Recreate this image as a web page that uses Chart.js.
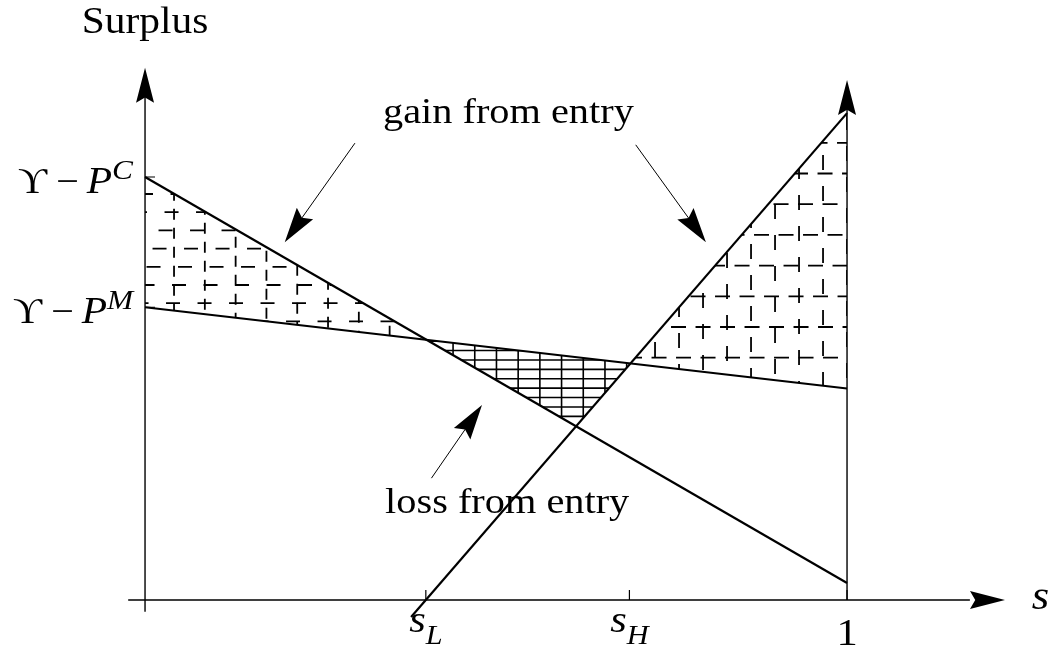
<!DOCTYPE html>
<html lang="en">
<head>
<meta charset="UTF-8">
<title>Surplus and entry</title>
<script src="https://cdn.jsdelivr.net/npm/chart.js@4.4.1/dist/chart.umd.min.js"></script>
<style>
  html, body { margin: 0; padding: 0; background: #fff; }
  #wrap { width: 1053px; height: 651px; }
</style>
</head>
<body>
<div id="wrap"><canvas id="surplusChart"></canvas></div>
<script>
// s along the horizontal axis, surplus scaled so that Y - P^C = 1
const lineC = [{x: 0, y: 1.0}, {x: 1, y: 0.04}];      // starts at Y - P^C
const lineM = [{x: 0, y: 0.692}, {x: 1, y: 0.5}];     // starts at Y - P^M
const lineE = [{x: 0.379, y: -0.04}, {x: 1, y: 1.151}];

const xTickValues = [0.4, 0.69, 1];
const xTickMain = ['s', 's', '1'];
const xTickSub = ['L', 'H', ''];
const yTickValues = [1.0, 0.692];
const yTickSup = ['C', 'M'];
const yTickLeft = [18, 13];

const noteText = ['gain from entry', 'loss from entry'];
const notePos = [{x: 0.339, y: 1.128}, {x: 0.342, y: 0.206}];
const pointerFrom = [{x: 0.299, y: 1.080}, {x: 0.699, y: 1.076}, {x: 0.408, y: 0.288}];
const pointerTo = [{x: 0.199, y: 0.846}, {x: 0.799, y: 0.846}, {x: 0.480, y: 0.461}];

const SERIF = '"Liberation Serif", "DejaVu Serif", serif';
const SX = 1.12;

function lineAt(l, s) {
    return l[0].y + (l[1].y - l[0].y) * (s - l[0].x) / (l[1].x - l[0].x);
}
function meet(a, b) {
    const ka = (a[1].y - a[0].y) / (a[1].x - a[0].x);
    const kb = (b[1].y - b[0].y) / (b[1].x - b[0].x);
    const s = (b[0].y - kb * b[0].x - a[0].y + ka * a[0].x) / (ka - kb);
    return {x: s, y: lineAt(a, s)};
}

function toPx(chart, p) {
    return {x: chart.scales.x.getPixelForValue(p.x), y: chart.scales.y.getPixelForValue(p.y)};
}

function hatch(ctx, pts, h) {
    const xs = pts.map(p => p.x), ys = pts.map(p => p.y);
    const b = {left: Math.min(...xs), right: Math.max(...xs), top: Math.min(...ys), bottom: Math.max(...ys)};
    ctx.save();
    ctx.beginPath();
    pts.forEach((p, i) => i ? ctx.lineTo(p.x, p.y) : ctx.moveTo(p.x, p.y));
    ctx.closePath();
    ctx.clip();
    ctx.strokeStyle = '#000';
    ctx.lineWidth = h.lw;
    ctx.lineCap = 'butt';

    ctx.setLineDash(h.hDash || []);
    let r = 0;
    for (let y = h.oy - Math.ceil((h.oy - b.top) / h.dy) * h.dy; y <= b.bottom + 1; y += h.dy, r++) {
        ctx.lineDashOffset = (h.hStep || 0) * r;
        ctx.beginPath();
        if (h.fromRight) { ctx.moveTo(b.right, y); ctx.lineTo(b.left - 2, y); }
        else { ctx.moveTo(b.left, y); ctx.lineTo(b.right + 2, y); }
        ctx.stroke();
    }

    ctx.setLineDash(h.vDash || []);
    let c = 0;
    const y0 = h.oy - Math.ceil((h.oy - b.top) / h.dy) * h.dy;
    for (let x = h.ox - Math.ceil((h.ox - b.left) / h.dx) * h.dx; x <= b.right + 1; x += h.dx, c++) {
        ctx.lineDashOffset = (h.vStep || 0) * c;
        ctx.beginPath();
        ctx.moveTo(x, y0);
        ctx.lineTo(x, b.bottom + 2);
        ctx.stroke();
    }
    ctx.restore();
}

function arrowHead(ctx, tip, from, len, half) {
    const a = Math.atan2(tip.y - from.y, tip.x - from.x);
    const ux = Math.cos(a), uy = Math.sin(a);
    const nx = -uy, ny = ux;
    const bx = tip.x - ux * len, by = tip.y - uy * len;
    ctx.beginPath();
    ctx.moveTo(tip.x, tip.y);
    ctx.lineTo(bx + nx * half, by + ny * half);
    ctx.lineTo(tip.x - ux * len * 0.85, tip.y - uy * len * 0.85);
    ctx.lineTo(bx - nx * half, by - ny * half);
    ctx.closePath();
    ctx.fill();
}

function arrow(ctx, from, tip, width, len, half) {
    const a = Math.atan2(tip.y - from.y, tip.x - from.x);
    ctx.lineWidth = width;
    ctx.beginPath();
    ctx.moveTo(from.x, from.y);
    ctx.lineTo(tip.x - Math.cos(a) * len * 0.8, tip.y - Math.sin(a) * len * 0.8);
    ctx.stroke();
    arrowHead(ctx, tip, from, len, half);
}

function richText(ctx, parts, x, y, align) {
    ctx.save();
    ctx.translate(x, y);
    ctx.scale(SX, 1);
    let w = 0;
    parts.forEach(p => { ctx.font = p.font; p.w = ctx.measureText(p.t).width + (p.gap || 0); w += p.w; });
    let cx = align === 'center' ? -w / 2 : align === 'right' ? -w : 0;
    parts.forEach(p => { ctx.font = p.font; ctx.fillText(p.t, cx, p.dy || 0); cx += p.w; });
    ctx.restore();
}

const diagram = {
    id: 'surplusDiagram',
    beforeDatasetsDraw(chart) {
        const ctx = chart.ctx;
        const pCM = toPx(chart, meet(lineC, lineM));
        const pME = toPx(chart, meet(lineM, lineE));
        const pCE = toPx(chart, meet(lineC, lineE));
        const c0 = toPx(chart, lineC[0]), m0 = toPx(chart, lineM[0]);
        const e1 = toPx(chart, lineE[1]), m1 = toPx(chart, lineM[1]);

        // gain on the left: between the two price lines up to s_L
        hatch(ctx, [c0, pCM, m0], {dx: 30.8, dy: 18.2, ox: c0.x + 29, oy: c0.y + 17, lw: 1.8,
            hDash: [14, 17.5], hStep: 6, vDash: [11, 8], vStep: 5});
        // loss in the middle
        hatch(ctx, [pCM, pME, pCE], {dx: 21.7, dy: 9.4, ox: pCM.x + 26.5, oy: pCM.y + 10.7, lw: 1.6});
        // gain on the right
        hatch(ctx, [pME, e1, m1], {dx: 24, dy: 30.7, ox: e1.x - 24, oy: e1.y + 29.7, lw: 1.8,
            hDash: [15, 9.5], hStep: 5, fromRight: true, vDash: [15, 16], vStep: 9});
    },
    afterDatasetsDraw(chart) {
        const ctx = chart.ctx;
        const xs = chart.scales.x, ys = chart.scales.y;
        const X = v => xs.getPixelForValue(v), Y = v => ys.getPixelForValue(v);
        ctx.save();
        ctx.strokeStyle = '#000';
        ctx.fillStyle = '#000';
        ctx.setLineDash([]);

        // axes
        ctx.lineWidth = 1.4;
        ctx.beginPath();
        ctx.moveTo(X(-0.024), Y(0));
        ctx.lineTo(X(1.175), Y(0));
        ctx.moveTo(X(0), Y(-0.028));
        ctx.lineTo(X(0), Y(1.21));
        ctx.moveTo(X(1), Y(0));
        ctx.lineTo(X(1), Y(1.18));
        ctx.stroke();
        arrowHead(ctx, {x: X(1.225), y: Y(0)}, {x: X(0), y: Y(0)}, 35, 9);
        arrowHead(ctx, {x: X(0), y: Y(1.258)}, {x: X(0), y: Y(0)}, 35, 9);
        arrowHead(ctx, {x: X(1), y: Y(1.229)}, {x: X(1), y: Y(0)}, 35, 9);

        // ticks
        ctx.lineWidth = 1.2;
        ctx.beginPath();
        xTickValues.forEach(v => { ctx.moveTo(X(v), Y(0)); ctx.lineTo(X(v), Y(0) - 10); });
        yTickValues.forEach(v => { ctx.moveTo(X(0), Y(v)); ctx.lineTo(X(0) + 10, Y(v)); });
        ctx.stroke();

        // tick labels
        ctx.textBaseline = 'alphabetic';
        xTickValues.forEach((v, i) => {
            if (xTickSub[i]) {
                richText(ctx, [
                    {t: xTickMain[i], font: 'italic 38px ' + SERIF},
                    {t: xTickSub[i], font: 'italic 27px ' + SERIF, dy: 12}
                ], X(v), Y(0) + 32, 'center');
            } else {
                richText(ctx, [{t: xTickMain[i], font: '38px ' + SERIF}], X(v), Y(0) + 45, 'center');
            }
        });
        yTickValues.forEach((v, i) => {
            richText(ctx, [
                {t: '\u03D2', font: '36px ' + SERIF, gap: 8},
                {t: '\u2212', font: '36px ' + SERIF, gap: 7},
                {t: 'P', font: 'italic 37px ' + SERIF},
                {t: yTickSup[i], font: 'italic 28px ' + SERIF, dy: -14}
            ], yTickLeft[i], Y(v) + 16, 'left');
        });

        // axis titles
        richText(ctx, [{t: 'Surplus', font: '37px ' + SERIF}], X(0), Y(1.34), 'center');
        richText(ctx, [{t: 's', font: 'italic 40px ' + SERIF}], X(1.263), Y(0) + 9, 'left');

        // notes and pointers
        noteText.forEach((t, i) => {
            richText(ctx, [{t: t, font: '36px ' + SERIF}], X(notePos[i].x), Y(notePos[i].y), 'left');
        });
        pointerFrom.forEach((p, i) => {
            arrow(ctx, {x: X(p.x), y: Y(p.y)}, {x: X(pointerTo[i].x), y: Y(pointerTo[i].y)}, 1, 35, 10);
        });
        ctx.restore();
    }
};

const lineStyle = {showLine: true, borderColor: '#000', borderWidth: 2.2, pointRadius: 0, fill: false};

new Chart(document.getElementById('surplusChart'), {
    type: 'scatter',
    data: {
        datasets: [
            Object.assign({label: 'Y - P^C', data: lineC}, lineStyle),
            Object.assign({label: 'Y - P^M', data: lineM}, lineStyle),
            Object.assign({label: 'entry', data: lineE}, lineStyle)
        ]
    },
    options: {
        responsive: true,
        maintainAspectRatio: false,
        animation: false,
        layout: {padding: 0},
        plugins: {legend: {display: false}, tooltip: {enabled: false}},
        scales: {
            x: {type: 'linear', display: false, min: -0.2066, max: 1.2934},
            y: {type: 'linear', display: false, min: -0.1206, max: 1.4184}
        }
    },
    plugins: [diagram]
});
</script>
</body>
</html>
